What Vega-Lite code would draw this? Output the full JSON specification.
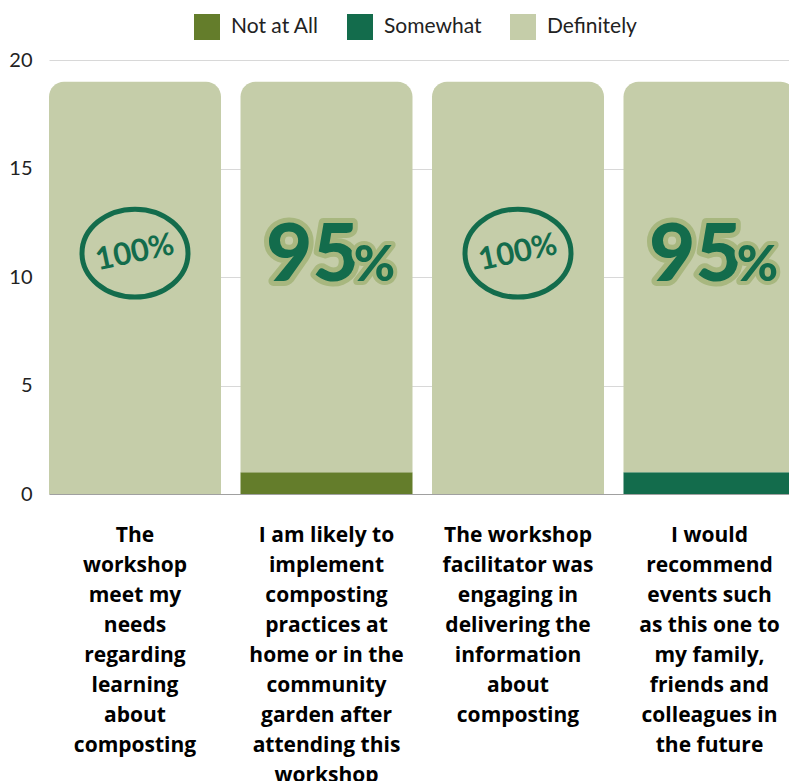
{
  "$schema": "https://vega.github.io/schema/vega-lite/v6.json",
  "width": 740,
  "height": 434,
  "autosize": {"type": "none"},
  "padding": {"left": 49, "top": 60, "right": 0, "bottom": 287},
  "background": "white",
  "config": {"view": {"stroke": null}},
  "datasets": {
    "resp": [
      {"q": "The workshop meet my needs regarding learning about composting", "resp": "Not at All", "count": 0, "ord": 1},
      {"q": "The workshop meet my needs regarding learning about composting", "resp": "Somewhat", "count": 0, "ord": 2},
      {"q": "The workshop meet my needs regarding learning about composting", "resp": "Definitely", "count": 19, "ord": 3},
      {"q": "I am likely to implement composting practices at home or in the community garden after attending this workshop", "resp": "Not at All", "count": 1, "ord": 1},
      {"q": "I am likely to implement composting practices at home or in the community garden after attending this workshop", "resp": "Somewhat", "count": 0, "ord": 2},
      {"q": "I am likely to implement composting practices at home or in the community garden after attending this workshop", "resp": "Definitely", "count": 18, "ord": 3},
      {"q": "The workshop facilitator was engaging in delivering the information about composting", "resp": "Not at All", "count": 0, "ord": 1},
      {"q": "The workshop facilitator was engaging in delivering the information about composting", "resp": "Somewhat", "count": 0, "ord": 2},
      {"q": "The workshop facilitator was engaging in delivering the information about composting", "resp": "Definitely", "count": 19, "ord": 3},
      {"q": "I would recommend events such as this one to my family, friends and colleagues in the future", "resp": "Not at All", "count": 0, "ord": 1},
      {"q": "I would recommend events such as this one to my family, friends and colleagues in the future", "resp": "Somewhat", "count": 1, "ord": 2},
      {"q": "I would recommend events such as this one to my family, friends and colleagues in the future", "resp": "Definitely", "count": 18, "ord": 3}
    ],
    "badges": [
      {"q": "The workshop meet my needs regarding learning about composting", "pct": "100%", "num": "100", "sign": "%"},
      {"q": "I am likely to implement composting practices at home or in the community garden after attending this workshop", "pct": "95%", "num": "95", "sign": "%"},
      {"q": "The workshop facilitator was engaging in delivering the information about composting", "pct": "100%", "num": "100", "sign": "%"},
      {"q": "I would recommend events such as this one to my family, friends and colleagues in the future", "pct": "95%", "num": "95", "sign": "%"}
    ]
  },
  "encoding": {
    "x": {
      "field": "q",
      "type": "nominal",
      "scale": {
        "domain": [
          "The workshop meet my needs regarding learning about composting",
          "I am likely to implement composting practices at home or in the community garden after attending this workshop",
          "The workshop facilitator was engaging in delivering the information about composting",
          "I would recommend events such as this one to my family, friends and colleagues in the future"
        ],
        "range": [0, 746.5],
        "paddingInner": 0.1018,
        "paddingOuter": 0
      },
      "axis": {
        "title": null,
        "labelAngle": 0,
        "ticks": false,
        "domain": true,
        "domainColor": "#a0a0a0",
        "labelBaseline": "top",
        "labelPadding": 30,
        "labelLineHeight": 30,
        "labelLimit": 0,
        "labelOverlap": false,
        "labelFont": "Open Sans",
        "labelFontWeight": "bold",
        "labelFontSize": 21,
        "labelColor": "#000000",
        "labelExpr": "indexof(datum.label,'The workshop meet')==0 ? ['The','workshop','meet my','needs','regarding','learning','about','composting'] : indexof(datum.label,'I am')==0 ? ['I am likely to','implement','composting','practices at','home or in the','community','garden after','attending this','workshop'] : indexof(datum.label,'The workshop facilitator')==0 ? ['The workshop','facilitator was','engaging in','delivering the','information','about','composting'] : ['I would','recommend','events such','as this one to','my family,','friends and','colleagues in','the future']"
      }
    }
  },
  "layer": [
    {
      "data": {"name": "resp"},
      "transform": [
        {"stack": "count", "groupby": ["q"], "sort": [{"field": "ord", "order": "ascending"}], "as": ["v0", "v1"]},
        {"filter": "datum.resp != 'Definitely'"}
      ],
      "mark": {"type": "bar", "clip": true},
      "encoding": {
        "y": {
          "field": "v1",
          "type": "quantitative",
          "scale": {"domain": [0, 20]},
          "axis": {
            "title": null,
            "values": [0, 5, 10, 15, 20],
            "grid": true,
            "gridColor": "#d8d8d8",
            "domain": false,
            "ticks": false,
            "labelFont": "Lato",
            "labelFontSize": 20,
            "labelColor": "#222222",
            "labelPadding": 17
          }
        },
        "y2": {"field": "v0"},
        "color": {
          "field": "resp",
          "type": "nominal",
          "scale": {
            "domain": ["Not at All", "Somewhat", "Definitely"],
            "range": ["#647d2b", "#136c4c", "#c5cda9"]
          },
          "legend": {
            "title": null,
            "orient": "none",
            "legendX": 145,
            "legendY": -46,
            "direction": "horizontal",
            "symbolType": "square",
            "symbolSize": 676,
            "symbolStrokeWidth": 0,
            "symbolOpacity": 1,
            "labelFont": "Lato",
            "labelFontSize": 21,
            "labelColor": "#222222",
            "labelOffset": 11,
            "columnPadding": 28
          }
        }
      }
    },
    {
      "data": {"name": "resp"},
      "transform": [
        {"stack": "count", "groupby": ["q"], "sort": [{"field": "ord", "order": "ascending"}], "as": ["v0", "v1"]},
        {"filter": "datum.resp == 'Definitely'"}
      ],
      "mark": {"type": "bar", "clip": true, "cornerRadiusTopLeft": 15, "cornerRadiusTopRight": 15},
      "encoding": {
        "y": {"field": "v1", "type": "quantitative"},
        "y2": {"field": "v0"},
        "color": {"field": "resp", "type": "nominal"}
      }
    },
    {
      "data": {"name": "badges"},
      "transform": [{"filter": "datum.pct == '100%'"}],
      "mark": {
        "type": "point",
        "shape": "M-1,0A1,0.83,0,1,1,1,0A1,0.83,0,1,1,-1,0Z",
        "size": 11236,
        "filled": false,
        "stroke": "#136c4c",
        "strokeWidth": 5,
        "opacity": 1
      },
      "encoding": {"y": {"datum": 11.1, "type": "quantitative"}}
    },
    {
      "data": {"name": "badges"},
      "transform": [{"filter": "datum.pct == '100%'"}],
      "mark": {"type": "text", "font": "Lato", "fontWeight": "bold", "fontSize": 31, "angle": -12, "color": "#136c4c", "baseline": "middle", "align": "center"},
      "encoding": {"y": {"datum": 11.1, "type": "quantitative"}, "text": {"field": "pct"}}
    },
    {
      "data": {"name": "badges"},
      "transform": [{"filter": "datum.pct == '95%'"}],
      "mark": {"type": "text", "font": "Lato", "fontWeight": 900, "fontSize": 80, "dx": -14, "align": "center", "baseline": "alphabetic", "fill": "#a8b77f", "stroke": "#a8b77f", "strokeWidth": 10, "strokeJoin": "round"},
      "encoding": {"y": {"datum": 9.8, "type": "quantitative"}, "text": {"field": "num"}}
    },
    {
      "data": {"name": "badges"},
      "transform": [{"filter": "datum.pct == '95%'"}],
      "mark": {"type": "text", "font": "Lato", "fontWeight": 900, "fontSize": 80, "dx": -14, "align": "center", "baseline": "alphabetic", "fill": "#136c4c"},
      "encoding": {"y": {"datum": 9.8, "type": "quantitative"}, "text": {"field": "num"}}
    },
    {
      "data": {"name": "badges"},
      "transform": [{"filter": "datum.pct == '95%'"}],
      "mark": {"type": "text", "font": "Lato", "fontWeight": 900, "fontSize": 50, "dx": 48, "align": "center", "baseline": "alphabetic", "fill": "#a8b77f", "stroke": "#a8b77f", "strokeWidth": 8, "strokeJoin": "round"},
      "encoding": {"y": {"datum": 9.8, "type": "quantitative"}, "text": {"field": "sign"}}
    },
    {
      "data": {"name": "badges"},
      "transform": [{"filter": "datum.pct == '95%'"}],
      "mark": {"type": "text", "font": "Lato", "fontWeight": 900, "fontSize": 50, "dx": 48, "align": "center", "baseline": "alphabetic", "fill": "#136c4c"},
      "encoding": {"y": {"datum": 9.8, "type": "quantitative"}, "text": {"field": "sign"}}
    }
  ]
}
